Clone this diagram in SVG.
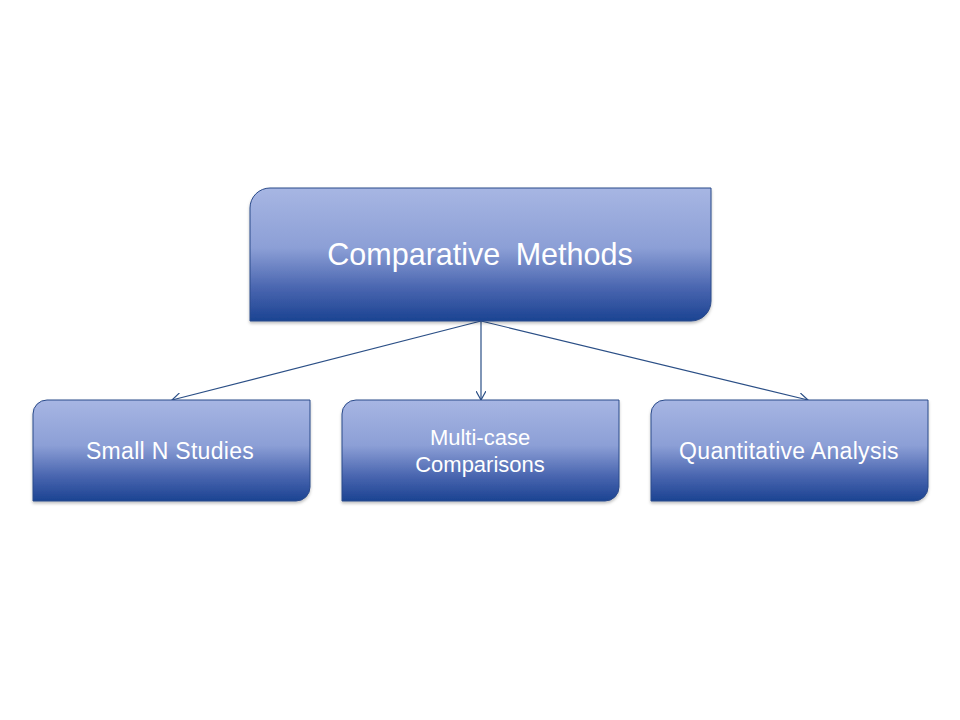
<svg xmlns="http://www.w3.org/2000/svg" width="960" height="720" viewBox="0 0 960 720">
<defs>
<linearGradient id="g" x1="0" y1="0" x2="0" y2="1">
<stop offset="0" stop-color="#a7b6e3"/>
<stop offset="0.45" stop-color="#8c9fd6"/>
<stop offset="0.75" stop-color="#4a66b0"/>
<stop offset="1" stop-color="#1b4392"/>
</linearGradient>
<marker id="arr" viewBox="0 0 10 10" refX="9" refY="5" markerWidth="10" markerHeight="10" markerUnits="userSpaceOnUse" orient="auto">
<path d="M0,0 L9,5 L0,10" fill="none" stroke="#2b4f86" stroke-width="1.2"/>
</marker>
<filter id="sh" x="-5%" y="-5%" width="110%" height="120%">
<feDropShadow dx="0" dy="2" stdDeviation="1.5" flood-color="#000" flood-opacity="0.25"/>
</filter>
</defs>
<style>
.box{fill:url(#g);stroke:#2a4a8a;stroke-width:1;filter:url(#sh)}
.t{font-family:"Liberation Sans",Arial,sans-serif;fill:#ffffff;text-anchor:middle}
.s{font-size:23px;letter-spacing:0.3px}
.m{font-size:22px}
.c{stroke:#2b4f86;stroke-width:1.2;fill:none;marker-end:url(#arr)}
</style>
<rect width="960" height="720" fill="#ffffff"/>
<g id="connectors">
<line class="c" x1="481" y1="321" x2="172" y2="400"/>
<line class="c" x1="481" y1="321" x2="481" y2="400"/>
<line class="c" x1="481" y1="321" x2="808" y2="400"/>
</g>
<g id="node-comparative">
<path class="box" d="M270,188 H711 V301 A20,20 0 0 1 691,321 H250 V208 A20,20 0 0 1 270,188 Z"/>
<text class="t" x="480" y="265" font-size="30.5" word-spacing="7">Comparative Methods</text>
</g>
<g id="node-small">
<path class="box" d="M47,400 H310 V487 A14,14 0 0 1 296,501 H33 V414 A14,14 0 0 1 47,400 Z"/>
<text class="t s" x="170" y="459">Small N Studies</text>
</g>
<g id="node-multi">
<path class="box" d="M356,400 H619 V487 A14,14 0 0 1 605,501 H342 V414 A14,14 0 0 1 356,400 Z"/>
<text class="t m" x="480" y="445">Multi-case</text>
<text class="t m" x="480" y="472">Comparisons</text>
</g>
<g id="node-quant">
<path class="box" d="M665,400 H928 V487 A14,14 0 0 1 914,501 H651 V414 A14,14 0 0 1 665,400 Z"/>
<text class="t s" x="789" y="459">Quantitative Analysis</text>
</g>
</svg>
